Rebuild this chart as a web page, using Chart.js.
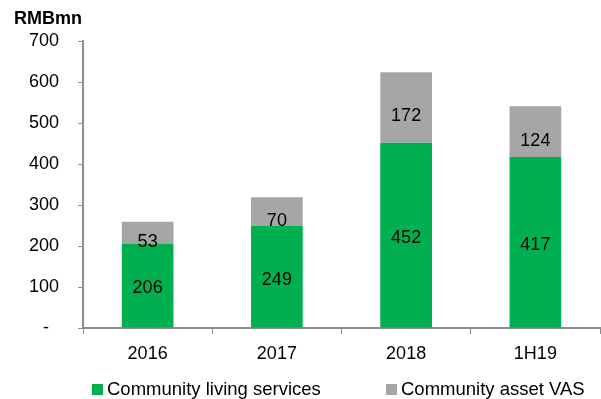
<!DOCTYPE html>
<html>
<head>
<meta charset="utf-8">
<script src="https://cdn.jsdelivr.net/npm/chart.js@4/dist/chart.umd.min.js"></script>
<style>
  html, body { margin: 0; padding: 0; background: #fff; }
  #wrap { width: 601px; height: 399px; }
</style>
</head>
<body>
<div id="wrap"><canvas id="c" width="601" height="399"></canvas></div>
<script>
// Revenue split by segment, RMB million
const categories = ['2016', '2017', '2018', '1H19'];
const livingServices = [206, 249, 452, 417];
const assetVAS = [53, 70, 172, 124];
const yTicks = [0, 100, 200, 300, 400, 500, 600, 700];
const seriesNames = ['Community living services', 'Community asset VAS'];
const unitLabel = 'RMBmn';

const FONT = '"Liberation Sans", Arial, sans-serif';
const GREEN = '#00B050';
const GREY = '#A6A6A6';
const AXIS = '#8C8C8C';

// Values written inside each stacked segment
const segmentLabels = {
  id: 'segmentLabels',
  afterDatasetsDraw(chart) {
    const ctx = chart.ctx;
    ctx.save();
    ctx.font = '18px ' + FONT;
    ctx.fillStyle = '#000';
    ctx.textAlign = 'center';
    ctx.textBaseline = 'middle';
    chart.data.datasets.forEach((ds, di) => {
      const meta = chart.getDatasetMeta(di);
      meta.data.forEach((bar, i) => {
        const mid = (bar.y + bar.base) / 2;
        const y = di === 1 ? mid + 9 : mid + 3;
        ctx.fillText(String(ds.data[i]), bar.x, y);
      });
    });
    ctx.restore();
  }
};

// Unit caption above the value axis and the legend row underneath
const frame = {
  id: 'frame',
  afterDraw(chart) {
    const ctx = chart.ctx;
    ctx.save();
    ctx.fillStyle = '#000';
    ctx.font = 'bold 18px ' + FONT;
    ctx.textAlign = 'left';
    ctx.textBaseline = 'middle';
    ctx.fillText(unitLabel, 14, 19);

    const starts = [92, 386];
    ctx.font = '18.5px ' + FONT;
    chart.data.datasets.forEach((ds, i) => {
      const x = starts[i];
      ctx.fillStyle = ds.backgroundColor;
      ctx.fillRect(x, 384, 11, 11);
      ctx.fillStyle = '#000';
      ctx.fillText(ds.label, x + 15, 390);
    });
    ctx.restore();
  }
};

new Chart(document.getElementById('c'), {
  type: 'bar',
  data: {
    labels: categories,
    datasets: [
      { label: seriesNames[0], data: livingServices, backgroundColor: GREEN },
      { label: seriesNames[1], data: assetVAS, backgroundColor: GREY }
    ]
  },
  options: {
    responsive: false,
    animation: false,
    devicePixelRatio: 1,
    layout: { padding: { top: 41, right: 1, left: 0, bottom: 0 } },
    datasets: { bar: { barPercentage: 0.4, categoryPercentage: 1 } },
    plugins: { legend: { display: false }, tooltip: { enabled: false } },
    scales: {
      x: {
        stacked: true,
        afterFit(scale) { scale.height = 71; },
        grid: { display: true, drawOnChartArea: false, drawTicks: true, tickLength: 6, color: AXIS, offset: true },
        border: { display: true, color: AXIS, width: 2 },
        ticks: { color: '#000', font: { family: FONT, size: 18 }, padding: 9 }
      },
      y: {
        stacked: true,
        min: 0,
        max: 700,
        afterFit(scale) { scale.width = 83; },
        afterBuildTicks(scale) { scale.ticks = yTicks.map(v => ({ value: v })); },
        grid: { display: true, drawOnChartArea: false, drawTicks: true, tickLength: 5, color: AXIS },
        border: { display: true, color: AXIS, width: 2 },
        ticks: {
          color: '#000',
          font: { family: FONT, size: 18 },
          padding: 19,
          callback: v => (v === 0 ? '-  ' : String(v))
        }
      }
    }
  },
  plugins: [segmentLabels, frame]
});
</script>
</body>
</html>
